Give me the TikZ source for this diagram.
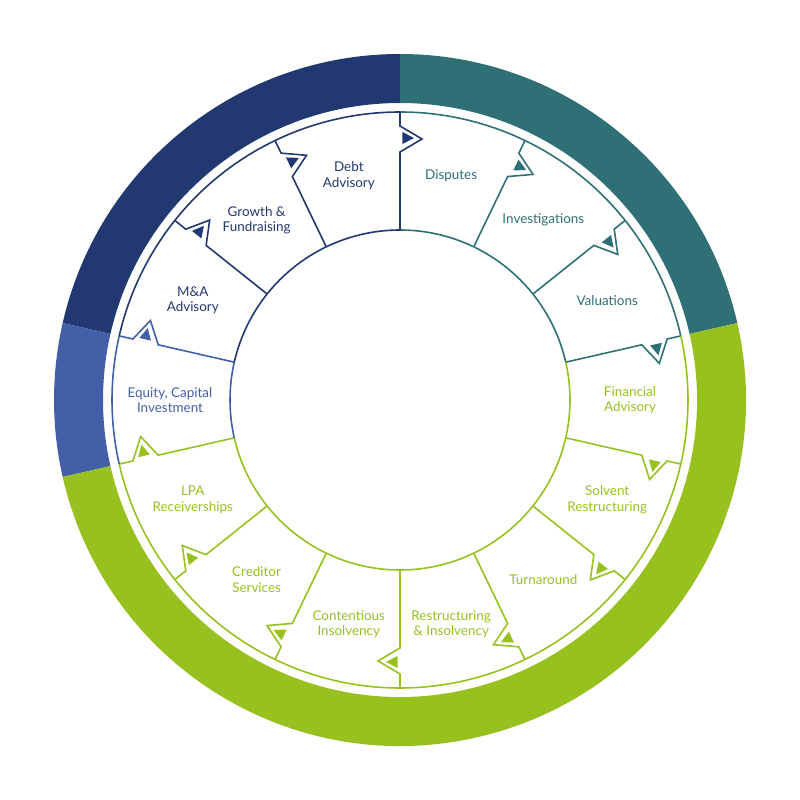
\documentclass[tikz,border=0pt]{standalone}
\usepackage{fontspec}
\setmainfont{Lato}
\usepackage{tikz}
\usetikzlibrary{calc}
\usepackage{xcolor}

\definecolor{navyseg}{RGB}{34,56,112}
\definecolor{tealseg}{RGB}{47,111,118}
\definecolor{blueseg}{RGB}{66,95,168}
\definecolor{greenseg}{RGB}{151,193,31}

\tikzset{
  segline/.style={line width=1.6, line join=miter},
  lbl/.style={font=\fontsize{13.5}{15.5}\selectfont, align=center, inner sep=0pt}
}

\begin{document}
\begin{tikzpicture}[x=1bp,y=1bp]
\useasboundingbox (-400,-400) rectangle (400,400);
% Anel exterior
\fill[tealseg] (12.857:346) arc[start angle=12.857, end angle=90, radius=346] -- (90:297) arc[start angle=90, end angle=12.857, radius=297] -- cycle;
\fill[navyseg] (90:346) arc[start angle=90, end angle=167.143, radius=346] -- (167.143:297) arc[start angle=167.143, end angle=90, radius=297] -- cycle;
\fill[blueseg] (167.143:346) arc[start angle=167.143, end angle=192.857, radius=346] -- (192.857:297) arc[start angle=192.857, end angle=167.143, radius=297] -- cycle;
\fill[greenseg] (192.857:346) arc[start angle=192.857, end angle=372.857, radius=346] -- (372.857:297) arc[start angle=372.857, end angle=192.857, radius=297] -- cycle;
% Segmentos
\foreach \i/\col/\txt in {
  0/tealseg/Disputes,
  1/tealseg/Investigations,
  2/tealseg/Valuations,
  3/greenseg/{Financial\\Advisory},
  4/greenseg/{Solvent\\Restructuring},
  5/greenseg/Turnaround,
  6/greenseg/{Restructuring\\\& Insolvency},
  7/greenseg/{Contentious\\Insolvency},
  8/greenseg/{Creditor\\Services},
  9/greenseg/{LPA\\Receiverships},
  10/blueseg/{Equity, Capital\\Investment},
  11/navyseg/{M\&A\\Advisory},
  12/navyseg/{Growth \&\\Fundraising},
  13/navyseg/{Debt\\Advisory}} {
  \pgfmathsetmacro\a{90-\i*360/14}
  \pgfmathsetmacro\b{\a-360/14}
  \pgfmathsetmacro\m{\a-180/14}
  \draw[segline,\col] (\a:288) arc[start angle=\a, end angle=\b, radius=288]; % arco exterior
  \draw[segline,\col] (\a:170) arc[start angle=\a, end angle=\b, radius=170]; % arco interior
  \begin{scope}[rotate=\b]
    \draw[segline,\col] (288,0) -- (274,0) -- (261,-22) -- (248,0) -- (170,0); % divisoria
    \fill[\col] (268,-2.5) -- (256,-2.5) -- (262,-14) -- cycle; % seta
  \end{scope}
  \node[lbl,text=\col] (seg\i) at (\m:230) {\txt};
}
\end{tikzpicture}
\end{document}
